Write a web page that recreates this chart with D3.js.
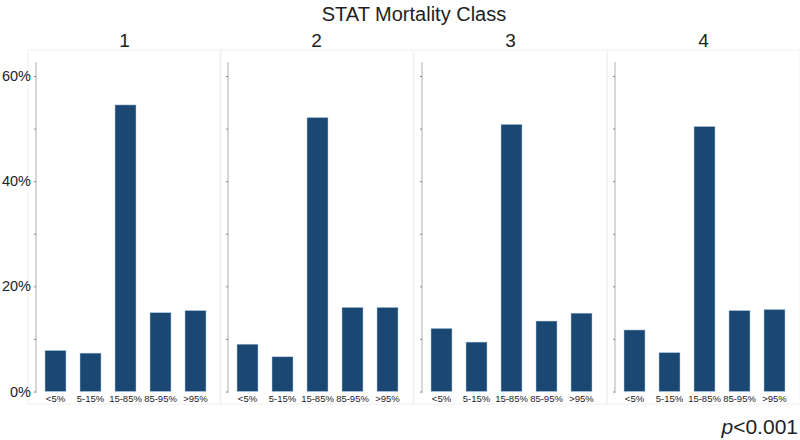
<!DOCTYPE html>
<html>
<head>
<meta charset="utf-8">
<script src="https://cdn.jsdelivr.net/npm/d3@7"></script>
<style>
	body { margin: 0; background: #fff; }
	svg { display: block; font-family: 'Liberation Sans', Arial, sans-serif; }
</style>
</head>
<body>
<svg id="chart" width="800" height="440"></svg>
<script>
const classes = ['1', '2', '3', '4']
const groups = ['<5%', '5-15%', '15-85%', '85-95%', '>95%']
// share of patients (%) per predicted mortality group, one array per STAT class
const class1 = [7.8, 7.3, 54.5, 15.0, 15.4]
const class2 = [9.0, 6.6, 52.1, 16.0, 16.0]
const class3 = [12.0, 9.4, 50.8, 13.4, 14.9]
const class4 = [11.7, 7.4, 50.4, 15.4, 15.6]
const yTicks = [0, 10, 20, 30, 40, 50, 60]
const yLabels = [0, 20, 40, 60]

const values = [class1, class2, class3, class4]

const navy = '#1b4872'
const textColor = '#222'

const svg = d3.select('#chart')

const panelLeft = [28, 220, 414, 607]
const panelW = 193
const panelTop = 50,
	panelBottom = 404

const y = d3.scaleLinear().domain([0, 60]).range([391.5, 76])

svg
	.append('text')
	.attr('x', 414)
	.attr('y', 21)
	.attr('text-anchor', 'middle')
	.attr('font-size', 20)
	.attr('fill', textColor)
	.text('STAT Mortality Class')

classes.forEach((c, i) => {
	const left = panelLeft[i]
	const axisX = left + 8
	const g = svg.append('g')

	// faint panel frame
	g.append('rect')
		.attr('x', left)
		.attr('y', panelTop)
		.attr('width', panelW)
		.attr('height', panelBottom - panelTop)
		.attr('fill', 'none')
		.attr('stroke', '#f0f0f0')
		.attr('stroke-width', 1)

	g.append('text')
		.attr('x', left + panelW / 2)
		.attr('y', 47)
		.attr('text-anchor', 'middle')
		.attr('font-size', 19)
		.attr('fill', textColor)
		.text(c)

	const x = d3
		.scaleBand()
		.domain(groups)
		.range([axisX + 2, axisX + 177])
		.paddingInner(0.4)
		.paddingOuter(0.2)

	g.selectAll('rect.bar')
		.data(values[i])
		.enter()
		.append('rect')
		.attr('class', 'bar')
		.attr('x', (d, j) => x(groups[j]))
		.attr('width', x.bandwidth())
		.attr('y', d => y(d))
		.attr('height', d => y(0) - y(d))
		.attr('fill', navy)
		.attr('stroke', '#b5cde2')
		.attr('stroke-width', 0.5)

	// y axis: line, minor ticks, labels only in the first panel
	g.append('line')
		.attr('x1', axisX)
		.attr('x2', axisX)
		.attr('y1', 62)
		.attr('y2', 393)
		.attr('stroke', '#b0b0b0')
		.attr('stroke-width', 1)

	const yAxis = d3
		.axisLeft(y)
		.tickValues(yTicks)
		.tickSize(2)
		.tickPadding(3)
		.tickFormat(d => (i === 0 && yLabels.includes(d) ? d + '%' : ''))

	const ax = g
		.append('g')
		.attr('transform', `translate(${axisX},0)`)
		.call(yAxis)
	ax.select('.domain').remove()
	ax.selectAll('line').attr('stroke', '#888')
	ax.selectAll('text')
		.attr('font-size', 14.5)
		.attr('fill', textColor)
		.attr('font-family', "'Liberation Sans', Arial, sans-serif")

	const xAxis = d3.axisBottom(x).tickSize(0).tickPadding(4)
	const bx = g
		.append('g')
		.attr('transform', `translate(0,${y(0)})`)
		.call(xAxis)
	bx.select('.domain').remove()
	bx.selectAll('text')
		.attr('font-size', 9.5)
		.attr('fill', textColor)
		.attr('font-family', "'Liberation Sans', Arial, sans-serif")
})

const pText = svg
	.append('text')
	.attr('x', 798)
	.attr('y', 434)
	.attr('text-anchor', 'end')
	.attr('font-size', 21)
	.attr('fill', textColor)
pText.append('tspan').attr('font-style', 'italic').text('p')
pText.append('tspan').text('<0.001')
</script>
</body>
</html>
